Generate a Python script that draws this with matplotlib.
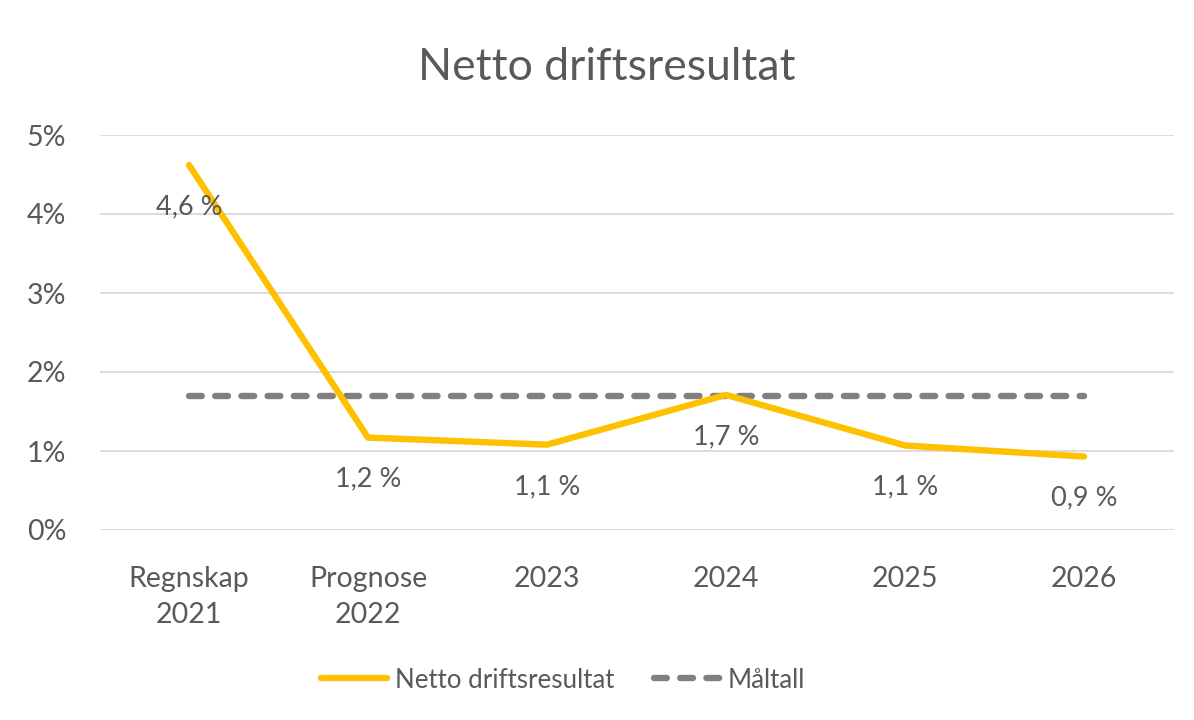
import matplotlib
matplotlib.use("Agg")
import matplotlib.pyplot as plt
from matplotlib.ticker import FuncFormatter

categories = ["Regnskap\n2021", "Prognose\n2022", "2023", "2024", "2025", "2026"]
netto = [4.62, 1.17, 1.08, 1.71, 1.07, 0.93]
labels = ["4,6 %", "1,2 %", "1,1 %", "1,7 %", "1,1 %", "0,9 %"]
maltall = [1.7, 1.7, 1.7, 1.7, 1.7, 1.7]
yticks = [0, 1, 2, 3, 4, 5]

plt.rcParams['font.family'] = ['Lato', 'DejaVu Sans']
txt = '#595959'

fig = plt.figure(figsize=(11.94, 7.2), dpi=100)
ax = fig.add_axes([99.5/1194, 1-530/720, (1173.5-99.5)/1194, (530-135)/720])
x = list(range(len(categories)))
ax.plot(x, netto, color='#FFC000', lw=4.6, solid_capstyle='round', label='Netto driftsresultat', zorder=3)
ax.plot(x, maltall, color='#808080', lw=4.6, dashes=(2.0, 2.1), dash_capstyle='round', label='Måltall', zorder=2)
for xi, v, l in zip(x, netto, labels):
    ax.annotate(l, (xi, v), xytext=(0, -30), textcoords='offset points', ha='center', va='center',
                fontsize=19.5, color=txt)
ax.set_xlim(-0.5, len(categories)-0.5)
ax.set_ylim(0, 5)
ax.set_yticks(yticks)
ax.yaxis.set_major_formatter(FuncFormatter(lambda v, p: f"{int(v)}%"))
ax.set_xticks(x)
ax.set_xticklabels(categories, linespacing=1.45)
ax.tick_params(length=0, labelsize=20.5, labelcolor=txt)
ax.tick_params(axis='y', pad=24)
ax.tick_params(axis='x', pad=26)
ax.grid(axis='y', color='#D9D9D9', lw=1.3)
ax.set_axisbelow(True)
for s in ax.spines.values():
    s.set_visible(False)
fig.text(607/1194, 1-68/720, "Netto driftsresultat", ha='center', va='center', fontsize=32, color=txt)
fig.legend(loc='center', bbox_to_anchor=(563/1194, 1-680/720), ncol=2, frameon=False, fontsize=18.6,
           labelcolor=txt, handlelength=2.55, columnspacing=1.55, handletextpad=0.3)
fig.savefig("out.png", dpi=100)
